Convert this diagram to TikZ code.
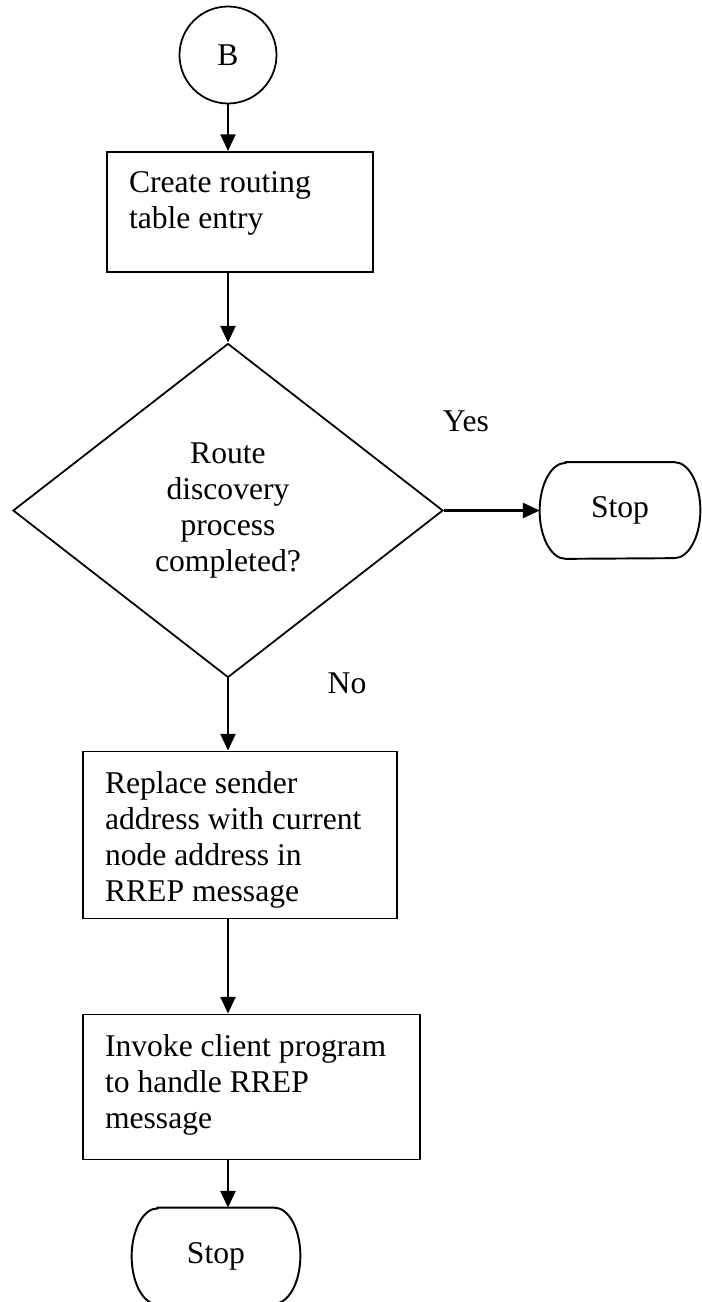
\documentclass[tikz,border=0pt]{standalone}
\usepackage{fontspec}
\setmainfont{Liberation Serif}
\usetikzlibrary{shapes.geometric,arrows.meta}
\tikzset{
  procbox/.style={draw, line width=1.1pt, rectangle, inner xsep=0.44cm, inner ysep=0pt},
  termbox/.style={rectangle, minimum height=1.92cm, inner sep=0pt},
  decbox/.style={draw, line width=1pt, diamond, aspect=1.29, inner sep=0pt, align=center},
  connbox/.style={draw, line width=1pt, circle, minimum size=1.94cm, inner sep=0pt},
  flow/.style={line width=1.4pt, -{Triangle[length=9.5pt,width=8.5pt]}}
}
\newcommand{\steptext}[3]{\parbox[c][#1][t]{#2}{\raggedright\vspace*{0.4cm}#3}}
% terminator outline: flat top and bottom, half-ellipse ends
\newcommand{\termline}[1]{%
  \draw[line width=1.1pt] ([xshift=0.52cm]#1.north west) -- ([xshift=-0.52cm]#1.north east)
    arc[start angle=90, end angle=-90, x radius=0.52cm, y radius=0.96cm]
    -- ([xshift=0.52cm]#1.south west)
    arc[start angle=270, end angle=90, x radius=0.52cm, y radius=0.96cm] -- cycle;}

\begin{document}
\begin{tikzpicture}[font=\fontsize{18}{20.5}\selectfont]
	\useasboundingbox (0,0) rectangle (14.02,-26.04);
	\node[connbox] (B) at (4.56,-1.10) {B};
	\node[procbox] (create) at (4.80,-4.24) {\steptext{2.40cm}{4.44cm}{Create routing\\table entry}};
	\node[decbox, minimum width=8.6cm, minimum height=6.68cm] (done) at (4.56,-10.21) {Route\\discovery\\process\\completed?};
	\node[termbox, minimum width=3.2cm] (stopA) at (12.40,-10.21) {Stop};
	\node[procbox] (replace) at (4.80,-16.70) {\steptext{3.34cm}{5.40cm}{Replace sender\\address with current\\node address in\\RREP message}};
	\node[procbox] (invoke) at (5.03,-21.74) {\steptext{2.90cm}{5.86cm}{Invoke client program\\to handle RREP\\message}};
	\node[termbox, minimum width=3.36cm] (stopB) at (4.32,-25.12) {Stop};
	\termline{stopA}
	\termline{stopB}
	\node (yes) at (9.32,-8.42) {Yes};
	\node (no) at (6.94,-13.66) {No};
	\draw[flow] (B.south) -- (B.south |- create.north);
	\draw[flow] (B.south |- create.south) -- (done.north);
	\draw[flow] (done.east) -- (stopA.west);
	\draw[flow] (done.south) -- (done.south |- replace.north);
	\draw[flow] (done.south |- replace.south) -- (done.south |- invoke.north);
	\draw[flow] (done.south |- invoke.south) -- (done.south |- stopB.north);
\end{tikzpicture}
\end{document}
